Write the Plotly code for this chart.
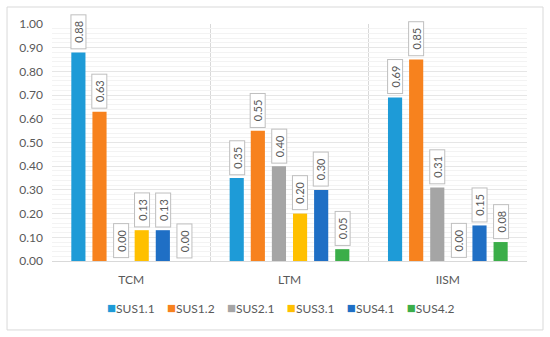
import plotly.graph_objects as go

categories = ["TCM", "LTM", "IISM"]
series_names = ["SUS1.1", "SUS1.2", "SUS2.1", "SUS3.1", "SUS4.1", "SUS4.2"]
sus11 = [0.88, 0.35, 0.69]
sus12 = [0.63, 0.55, 0.85]
sus21 = [0.00, 0.40, 0.31]
sus31 = [0.13, 0.20, 0.00]
sus41 = [0.13, 0.30, 0.15]
sus42 = [0.00, 0.05, 0.08]
y_ticks = [0.0, 0.1, 0.2, 0.3, 0.4, 0.5, 0.6, 0.7, 0.8, 0.9, 1.0]

series_values = [sus11, sus12, sus21, sus31, sus41, sus42]
colors = ["#1E9BD7", "#F7821E", "#A5A5A5", "#FFC000", "#1F6FC5", "#3BAE49"]

FONT = "Lato, Liberation Sans, sans-serif"
TXT = "#595959"
bargap = 0.2
n = len(series_names)
slot = (1 - bargap) / n
xs = list(range(len(categories)))

fig = go.Figure()
for name, vals, col in zip(series_names, series_values, colors):
    fig.add_trace(go.Bar(x=xs, y=vals, name=name, marker_color=col,
                         marker_line_width=0, showlegend=False))

annotations = []
for i, vals in enumerate(series_values):
    for c, v in enumerate(vals):
        annotations.append(dict(
            x=c + (i - (n - 1) / 2) * slot, y=v, xref="x", yref="y",
            text=f"{v:.2f}", showarrow=False, textangle=-90,
            xanchor="center", yanchor="bottom", yshift=3,
            width=31, height=12, borderpad=1,
            bordercolor="#BFBFBF", borderwidth=1, bgcolor="white",
            font=dict(family=FONT, size=11, color=TXT)))

legend_text = "&nbsp;&nbsp;&nbsp;&nbsp;".join(
    f"<span style='color:{col};font-size:15px'>■</span>{name}"
    for name, col in zip(series_names, colors))
annotations.append(dict(x=0.48, y=-0.195, xref="paper", yref="paper", text=legend_text,
                        showarrow=False, xanchor="center", yanchor="middle",
                        font=dict(family=FONT, size=12, color=TXT)))

fig.update_layout(
    width=550, height=337,
    margin=dict(l=52, r=23, t=24, b=76),
    paper_bgcolor="white", plot_bgcolor="white",
    barmode="group", bargap=bargap, bargroupgap=0.33,
    font=dict(family=FONT, size=12, color=TXT),
    annotations=annotations,
    shapes=[dict(type="rect", xref="paper", yref="paper",
                 x0=-0.0947, x1=1.0337, y0=-0.291, y1=1.0717,
                 line=dict(color="#D9D9D9", width=1), fillcolor="rgba(0,0,0,0)",
                 layer="below")],
)
fig.update_xaxes(range=[-0.5, 2.5], tickvals=xs, ticktext=categories,
                 showgrid=False, zeroline=False, showline=True, linecolor="#D9D9D9",
                 ticks="", ticklabelstandoff=8,
                 minor=dict(tickvals=[-0.5, 0.5, 1.5, 2.5], showgrid=True,
                            gridcolor="#D9D9D9", gridwidth=1),
                 tickfont=dict(family=FONT, size=12, color=TXT))
fig.update_yaxes(range=[0, 1.0], tickvals=y_ticks, tickformat=".2f",
                 showgrid=True, gridcolor="#E6E6E6", zeroline=False,
                 ticklabelstandoff=8,
                 minor=dict(dtick=0.02, showgrid=True, gridcolor="#F3F3F3"),
                 tickfont=dict(family=FONT, size=12, color=TXT))

fig.write_html("out.html", config={"displayModeBar": False},
               post_script="document.body.style.margin='0';")
